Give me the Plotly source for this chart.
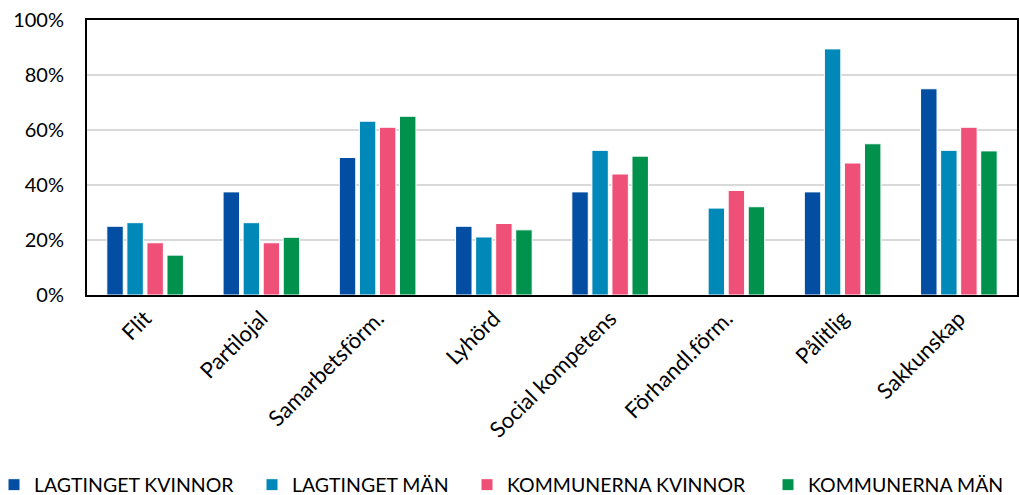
import plotly.graph_objects as go

# Data
categories = ["Flit", "Partilojal", "Samarbetsförm.", "Lyhörd", "Social kompetens",
              "Förhandl.förm.", "Pålitlig", "Sakkunskap"]
lagtinget_kvinnor = [25.0, 37.5, 50.0, 25.0, 37.5, 0.0, 37.5, 75.0]
lagtinget_man = [26.3, 26.3, 63.2, 21.1, 52.6, 31.6, 89.5, 52.6]
kommunerna_kvinnor = [19.0, 19.0, 61.0, 26.0, 44.0, 38.0, 48.0, 61.0]
kommunerna_man = [14.5, 21.0, 65.0, 23.7, 50.5, 32.1, 55.0, 52.4]

series_names = ["LAGTINGET KVINNOR", "LAGTINGET MÄN", "KOMMUNERNA KVINNOR", "KOMMUNERNA MÄN"]
series_values = [lagtinget_kvinnor, lagtinget_man, kommunerna_kvinnor, kommunerna_man]
colors = ["#034EA2", "#0088B8", "#EE5078", "#00914C"]

FONT = "Lato"
W, H = 1019, 495
ML, MR, MT, MB = 87, 2, 20, 200
PW, PH = W - ML - MR, H - MT - MB
# left edge (px, page) of each legend block, one legend per series so the spacing matches
legend_x_px = [-6, 252, 467, 768]
legend_y_px = 485

fig = go.Figure()
for i, (name, vals, color) in enumerate(zip(series_names, series_values, colors)):
    lg = "legend" if i == 0 else f"legend{i + 1}"
    fig.add_trace(go.Bar(
        x=categories,
        y=[v / 100 for v in vals],
        name=name,
        legend=lg,
        marker=dict(color=color, line=dict(color="white", width=1)),
    ))

legend_common = dict(
    orientation="h",
    xref="paper", yref="paper",
    y=-(legend_y_px - (H - MB)) / PH, xanchor="left", yanchor="middle",
    font=dict(size=19.5, family=FONT, color="black"),
    itemwidth=30,
    bgcolor="rgba(0,0,0,0)",
)
legends = {}
for i, px in enumerate(legend_x_px):
    key = "legend" if i == 0 else f"legend{i + 1}"
    legends[key] = dict(legend_common, x=(px - ML) / PW)

fig.update_layout(
    width=W,
    height=H,
    plot_bgcolor="white",
    paper_bgcolor="white",
    barmode="group",
    bargap=0.31,
    bargroupgap=0.18,
    margin=dict(l=ML, r=MR, t=MT, b=MB, autoexpand=False),
    font=dict(family=FONT, color="black"),
    showlegend=True,
    xaxis=dict(
        tickangle=-45,
        tickfont=dict(size=22, family=FONT),
        showline=True, linecolor="black", linewidth=2, mirror=True,
        ticks="", automargin=False,
    ),
    yaxis=dict(
        range=[0, 1],
        tickformat=".0%",
        dtick=0.2,
        tickfont=dict(size=20, family=FONT),
        showgrid=True, gridcolor="#D9D9D9", gridwidth=1.5,
        showline=True, linecolor="black", linewidth=2, mirror=True,
        zeroline=False,
        ticks="", automargin=False,
        ticklabeloverflow="allow",
        ticklabelstandoff=17,
    ),
    **legends,
)

# drop the default page margin so the figure fills the window exactly
fig.write_html("out.html",
               config={"displayModeBar": False},
               post_script="document.body.style.margin='0';document.body.style.overflow='hidden';")
